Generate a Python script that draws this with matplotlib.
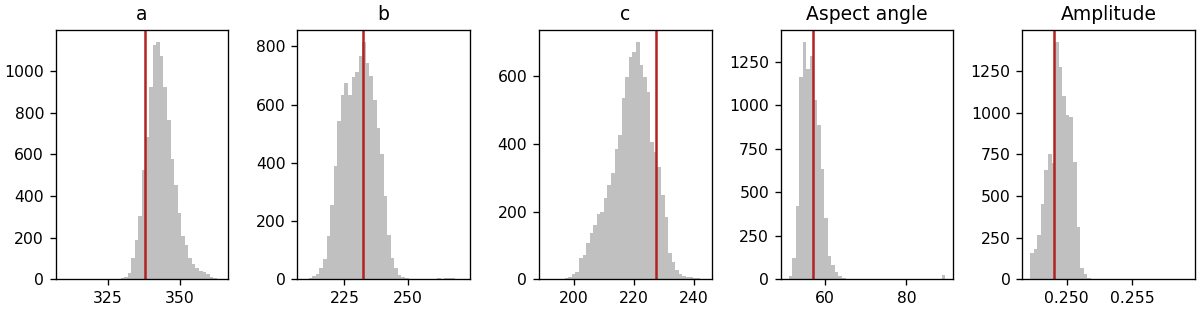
import numpy as np
import matplotlib
matplotlib.use("Agg")
import matplotlib.pyplot as plt

# histogram counts per bin (44 bins each)
counts_a = [1, 0, 0, 0, 0, 0, 0, 0, 0, 0, 0, 0, 0, 0, 0, 0,
            4, 12, 30, 100, 190, 305, 525, 685, 925, 1125, 1140, 1070, 925, 765,
            580, 455, 318, 210, 165, 100, 72, 52, 42, 33, 24, 13, 8, 3]
counts_b = [2, 5, 10, 18, 38, 69, 147, 256, 388, 542, 631, 674, 634, 695, 712,
            766, 815, 743, 697, 617, 520, 430, 287, 153, 72, 38, 15, 9, 5, 2,
            1, 1, 0, 0, 0, 0, 0, 4, 1, 5, 5, 4, 0, 1]
counts_c = [1, 0, 0, 1, 2, 5, 8, 15, 23, 62, 72, 106, 136, 160, 192, 200, 239,
            278, 313, 385, 426, 536, 598, 657, 672, 701, 632, 598, 554, 406, 377,
            332, 249, 185, 77, 52, 28, 15, 11, 8, 6, 5, 3, 2]
counts_d = [21, 121, 424, 1165, 1364, 1210, 1283, 1030, 885, 635, 355, 135, 80,
            40, 20, 10, 3, 1, 0, 0, 0, 0, 0, 0, 0, 0, 0, 0, 0, 0, 0, 0, 0, 0,
            0, 0, 0, 0, 0, 0, 0, 0, 0, 25]
counts_e = [156, 180, 267, 451, 658, 752, 698, 1425, 1277, 1101, 986, 977, 705,
            312, 66, 30, 5, 1, 0, 0, 0, 0, 0, 0, 0, 0, 0, 0, 0, 0, 0, 0, 0, 0,
            0, 0, 0, 0, 0, 0, 0, 0, 0, 1]

# (min, max) of the sampled values
range_a = (309.4, 364.2)
range_b = (209.5, 271.4)
range_c = (190.9, 243.2)
range_d = (51.2, 89.55)
range_e = (0.247207, 0.259195)

# reference value marked by the red line
truth = [337.9, 232.2, 227.4, 57.1, 0.24906]
titles = ["a", "b", "c", "Aspect angle", "Amplitude"]

all_counts = [counts_a, counts_b, counts_c, counts_d, counts_e]
all_ranges = [range_a, range_b, range_c, range_d, range_e]

plt.rcParams["font.size"] = 9.4

fig, axes = plt.subplots(1, 5, figsize=(10, 2.6), dpi=120)
fig.subplots_adjust(left=0.0464, right=0.9958, top=0.9038, bottom=0.1048,
                    wspace=0.4)

for ax, counts, rng, t, title in zip(axes, all_counts, all_ranges, truth, titles):
    edges = np.linspace(rng[0], rng[1], len(counts) + 1)
    ax.hist(edges[:-1], bins=edges, weights=counts, color="silver")
    ax.axvline(t, color="firebrick", lw=1.5)
    ax.set_title(title)

fig.savefig("out.png", dpi=120)
